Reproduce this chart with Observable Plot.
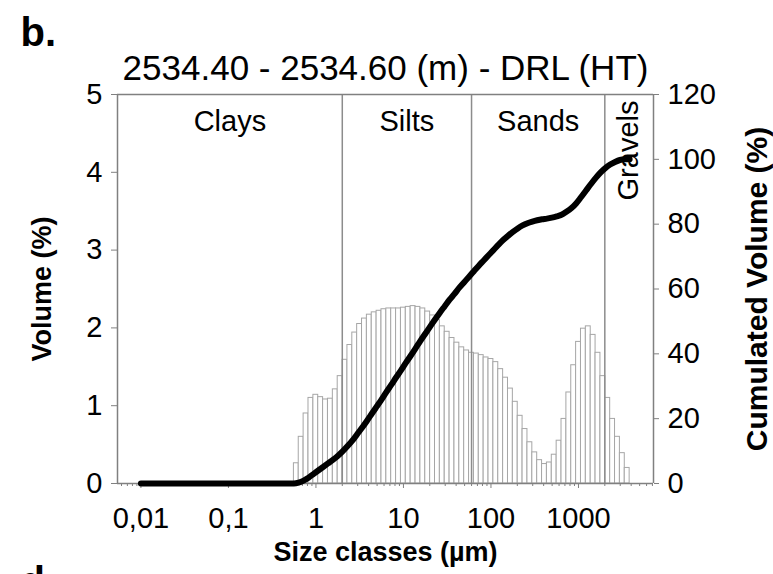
<!DOCTYPE html>
<html><head><meta charset="utf-8">
<script src="https://cdn.jsdelivr.net/npm/d3@7"></script>
<script src="https://cdn.jsdelivr.net/npm/@observablehq/plot@0.6"></script>
<style>
body{margin:0;background:#fff}
#chart svg{font-family:"Liberation Sans",Arial,sans-serif;background:#fff}
</style>
</head><body><div id="chart"></div><script>
// size class edges (µm)
const classEdges = [0.560,0.636,0.723,0.822,0.935,1.062,1.207,1.372,1.560,1.773,2.015,2.290,2.603,2.958,3.362,3.821,4.343,4.936,5.610,6.376,7.246,8.236,9.363,10.64,12.09,13.75,15.62,17.76,20.18,22.94,26.07,29.63,33.68,38.28,43.51,49.45,56.20,63.88,72.61,82.52,93.80,106.6,121.2,137.7,156.5,177.9,202.2,229.8,261.2,296.9,337.5,383.6,436.0,495.5,563.2,640.1,727.6,826.9,939.8,1068,1214,1380,1568,1782,2026,2303,2617,2975,3381,3843];
// volume (%) in each class
const volume = [0.26,0.60,0.90,1.10,1.14,1.11,1.08,1.09,1.21,1.38,1.59,1.78,1.94,2.05,2.12,2.17,2.20,2.22,2.24,2.25,2.25,2.25,2.26,2.27,2.28,2.27,2.25,2.21,2.16,2.10,2.02,1.95,1.87,1.81,1.75,1.71,1.68,1.67,1.65,1.62,1.60,1.56,1.47,1.36,1.22,1.05,0.87,0.70,0.53,0.40,0.30,0.25,0.27,0.37,0.55,0.83,1.17,1.52,1.82,1.99,2.02,1.91,1.68,1.38,1.10,0.83,0.60,0.39,0.20];
// cumulated volume (%) at each class edge
const cumulated = [0,0.3,0.9,1.8,2.9,4.0,5.1,6.2,7.3,8.5,9.9,11.5,13.2,15.2,17.2,19.3,21.5,23.7,25.9,28.2,30.4,32.7,34.9,37.2,39.4,41.7,44.0,46.2,48.4,50.6,52.7,54.7,56.7,58.5,60.4,62.1,63.8,65.5,67.2,68.8,70.4,72.0,73.6,75.1,76.4,77.6,78.7,79.6,80.3,80.8,81.2,81.5,81.7,82.0,82.4,82.9,83.8,84.9,86.4,88.3,90.3,92.3,94.2,95.9,97.3,98.4,99.2,99.8,100.0,100.0];
const curveStart = {size: 0.01, cum: 0};
const zoneBounds = [2, 60, 2000];
const zoneNames = ["Clays", "Silts", "Sands", "Gravels"];
const xTicks = [0.01, 0.1, 1, 10, 100, 1000];
const xTickLabels = ["0,01", "0,1", "1", "10", "100", "1000"];
const yTicks = [0, 1, 2, 3, 4, 5];
const y2Ticks = [0, 20, 40, 60, 80, 100, 120];
const panelLabel = "b.";
const nextPanelLabel = "d.";
const title = "2534.40 - 2534.60 (m) - DRL (HT)";
const xLabel = "Size classes (µm)";
const yLabel = "Volume (%)";
const y2Label = "Cumulated Volume (%)";

const xDomain = [0.0054, 7200];
const yMax = 5, y2Max = 120, k = y2Max / yMax;

const bins = volume.map((v, i) => ({lo: classEdges[i], hi: classEdges[i + 1], v}));
const curve = [curveStart, ...classEdges.map((s, i) => ({size: s, cum: cumulated[i]}))];
const zoneEdges = [xDomain[0], ...zoneBounds, xDomain[1]];
const zones = zoneNames.map((name, i) => ({name, x: Math.sqrt(zoneEdges[i] * zoneEdges[i + 1])}));

const minor = [];
for (let e = -3; e <= 3; e++) for (let m = 2; m <= 9; m++) {
  const v = m * Math.pow(10, e);
  if (v > xDomain[0] && v < xDomain[1]) minor.push(v);
}

const axisGray = "#808080";
const chart = Plot.plot({
  width: 773, height: 574,
  marginLeft: 117, marginRight: 120, marginTop: 94, marginBottom: 91,
  style: {fontFamily: "Liberation Sans, Arial, sans-serif", fontSize: "29px", color: "black"},
  x: {type: "log", domain: xDomain},
  y: {domain: [0, yMax]},
  marks: [
    Plot.rectY(bins, {x1: "lo", x2: "hi", y: "v", fill: "white", stroke: "#a6a6a6", strokeWidth: 1}),
    Plot.ruleX(zoneBounds, {stroke: "#8c8c8c", strokeWidth: 1.5}),
    Plot.ruleY([yMax], {stroke: axisGray, strokeWidth: 1.5}),
    Plot.ruleY([0], {stroke: axisGray, strokeWidth: 1.5}),
    Plot.ruleX([xDomain[0], xDomain[1]], {stroke: axisGray, strokeWidth: 1.5}),
    Plot.axisX(minor, {tickSize: 3, fill: "none", stroke: axisGray, label: null}),
    Plot.axisX(xTicks, {tickSize: 5, tickPadding: 19, stroke: axisGray, fill: "black", fontSize: 29,
      tickFormat: d => xTickLabels[xTicks.indexOf(d)], label: null}),
    Plot.axisY(yTicks, {anchor: "left", tickSize: 6, tickPadding: 9, stroke: axisGray, fill: "black", fontSize: 29,
      tickFormat: d => String(d), label: null}),
    Plot.axisY(y2Ticks.map(d => d / k), {anchor: "right", tickSize: 5, tickPadding: 9, stroke: axisGray, fill: "black", fontSize: 29,
      tickFormat: d => String(Math.round(d * k)), label: null}),
    Plot.line(curve, {x: "size", y: d => d.cum / k, stroke: "black", strokeWidth: 6, curve: "monotone-x", strokeLinecap: "round"}),
    Plot.text(zones.slice(0, 3), {x: "x", y: yMax, dy: 27, text: "name", fontSize: 29, lineAnchor: "middle", fill: "black"}),
    Plot.text(zones.slice(3), {x: "x", y: yMax, dy: 56, text: "name", fontSize: 29, rotate: -90, lineAnchor: "middle", fill: "black"}),
    Plot.text([panelLabel], {frameAnchor: "top-left", textAnchor: "start", lineAnchor: "middle", dx: -97, dy: -61, fontSize: 40, fontWeight: "bold", text: d => d}),
    Plot.text([nextPanelLabel], {frameAnchor: "top-left", textAnchor: "start", lineAnchor: "middle", dx: -97, dy: 488, fontSize: 40, fontWeight: "bold", text: d => d}),
    Plot.text([title], {frameAnchor: "top", lineAnchor: "middle", dy: -26, fontSize: 35, text: d => d}),
    Plot.text([yLabel], {frameAnchor: "left", textAnchor: "middle", rotate: -90, lineAnchor: "middle", dx: -75, fontSize: 27, fontWeight: "bold", text: d => d}),
    Plot.text([y2Label], {frameAnchor: "right", textAnchor: "middle", rotate: -90, lineAnchor: "middle", dx: 104, fontSize: 30, fontWeight: "bold", text: d => d}),
    Plot.text([xLabel], {frameAnchor: "bottom", lineAnchor: "middle", dy: 69, fontSize: 27, fontWeight: "bold", text: d => d})
  ]
});
document.getElementById("chart").appendChild(chart);
</script></body></html>
